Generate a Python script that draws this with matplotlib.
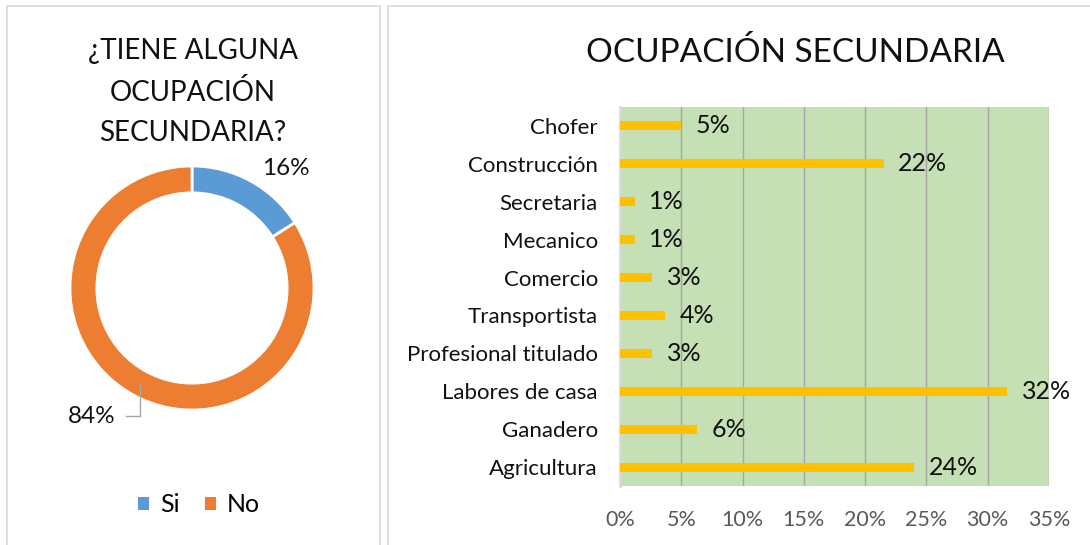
import numpy as np
import matplotlib.pyplot as plt
from matplotlib.patches import Rectangle, Patch

plt.rcParams['font.family'] = ['Lato', 'DejaVu Sans']

# donut data
donut_labels = ['Si', 'No']
donut_values = [16, 84]
donut_colors = ['#5B9BD5', '#ED7D31']

# bar data (top to bottom as shown)
categories = ['Chofer', 'Construcción', 'Secretaria', 'Mecanico', 'Comercio',
              'Transportista', 'Profesional titulado', 'Labores de casa',
              'Ganadero', 'Agricultura']
percent = [5.0, 21.5, 1.2, 1.2, 2.6, 3.7, 2.6, 31.6, 6.3, 24.0]
xticks = [0, 5, 10, 15, 20, 25, 30, 35]

W, H = 1090, 545
fig = plt.figure(figsize=(W / 100, H / 100), dpi=100)

def fx(px):
    return px / W

def fy(py):
    return 1 - py / H

# panel borders
for x0, x1 in [(7, 380), (388, 1100)]:
    fig.patches.append(Rectangle((fx(x0), fy(560)), fx(x1 - x0), (560 - 6) / H,
                                 transform=fig.transFigure, fill=False,
                                 edgecolor='#D9D9D9', linewidth=1.2))

# ---- donut ----
cx, cy, r = 192, 288, 122
ax1 = fig.add_axes([fx(cx - r), fy(cy + r), 2 * r / W, 2 * r / H])
wedges, _ = ax1.pie(donut_values, colors=donut_colors, startangle=90, counterclock=False,
                    radius=1, wedgeprops=dict(width=0.22, edgecolor='white', linewidth=2))
ax1.set_xlim(-1, 1)
ax1.set_ylim(-1, 1)
ax1.set_aspect('equal')
ax1.axis('off')

fig.text(fx(193), fy(92), '¿TIENE ALGUNA\nOCUPACIÓN\nSECUNDARIA?', ha='center', va='center',
         fontsize=20, linespacing=1.68, color='#111111')

ax1.text(0.77, 0.98, f'{donut_values[0]}%', ha='center', va='center', fontsize=17.5,
         color='#111111', clip_on=False)
# leader line for the "No" label
start = 90 - donut_values[0] / 100 * 360
mid = np.deg2rad(start - donut_values[1] / 100 * 360 / 2)
lx, ly = 0.89 * np.cos(mid), 0.89 * np.sin(mid)
ax1.plot([lx, lx, lx - 0.11], [ly, -1.05, -1.05], color='#A6A6A6', lw=1, clip_on=False)
ax1.text(lx - 0.2, -1.05, f'{donut_values[1]}%', ha='right', va='center', fontsize=17.5,
         color='#111111', clip_on=False)

handles = [Patch(facecolor=c, edgecolor='none') for c in donut_colors]
fig.legend(handles, donut_labels, loc='center', bbox_to_anchor=(fx(199), fy(505)), ncol=2,
           frameon=False, fontsize=18, handlelength=0.45, handleheight=0.45,
           handletextpad=0.45, columnspacing=1.0)

# ---- bars ----
ax2 = fig.add_axes([fx(620), fy(486), fx(1049 - 620), (486 - 107) / H])
ax2.set_facecolor('#C5E0B4')
y = np.arange(len(categories))
ax2.barh(y, percent, height=0.24, color='#FFC000', zorder=3)
for yi, v in zip(y, percent):
    ax2.text(v + 1.2, yi, f'{round(v)}%', va='center', ha='left', fontsize=18, color='#111111',
             zorder=4)
ax2.set_xlim(0, 35)
ax2.set_ylim(len(categories) - 0.5, -0.5)
ax2.set_xticks(xticks)
ax2.set_xticklabels([f'{t}%' for t in xticks])
ax2.set_yticks(y)
ax2.set_yticklabels(categories)
ax2.tick_params(axis='x', length=0, pad=17, labelsize=15.5, labelcolor='#595959')
ax2.tick_params(axis='y', length=0, pad=16, labelsize=16, labelcolor='#111111')
ax2.grid(axis='x', color='#A6A6A6', linewidth=1, zorder=1)
for s in ['top', 'bottom', 'right']:
    ax2.spines[s].set_visible(False)
ax2.spines['left'].set_color('#D9D9D9')
ax2.spines['left'].set_linewidth(2)

fig.text(fx(795), fy(52), 'OCUPACIÓN SECUNDARIA', ha='center', va='center', fontsize=24,
         color='#111111')

fig.savefig('out.png', dpi=100, facecolor='white')
